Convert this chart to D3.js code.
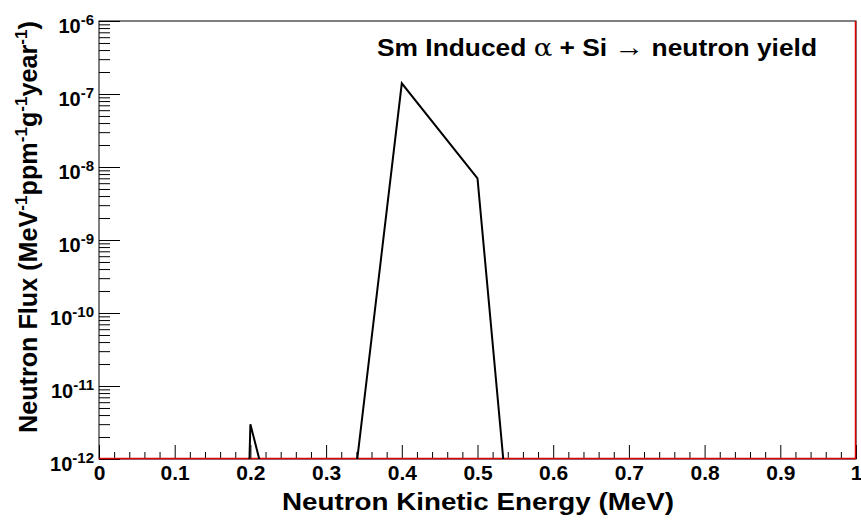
<!DOCTYPE html>
<html><head><meta charset="utf-8">
<script src="https://cdn.jsdelivr.net/npm/d3@7"></script>
<style>
html,body{margin:0;padding:0;background:#fff;}
svg{display:block;font-family:"Liberation Sans",Arial,Helvetica,sans-serif;font-weight:bold;}
</style></head>
<body>
<svg id="chart" width="861" height="522"></svg>
<script>
// ---- data ----
const energy = [0.1, 0.2, 0.3, 0.4, 0.5, 0.6];            // MeV
const flux   = [1e-50, 3.0e-12, 2.5e-16, 1.4e-7, 7.0e-9, 3.5e-20];
const floorEnergy = [0, 1, 1];
const floorFlux   = [1e-12, 1e-12, 1e-6];
const xTicks = [0, 0.1, 0.2, 0.3, 0.4, 0.5, 0.6, 0.7, 0.8, 0.9, 1];
const xTickLabels = ["0", "0.1", "0.2", "0.3", "0.4", "0.5", "0.6", "0.7", "0.8", "0.9", "1"];
const yDecades = [1e-12, 1e-11, 1e-10, 1e-9, 1e-8, 1e-7, 1e-6];
const yExponents = ["-12", "-11", "-10", "-9", "-8", "-7", "-6"];

// ---- layout ----
const L = 99, R = 856, T = 21, B = 459;
const svg = d3.select("#chart");
svg.append("rect").attr("width", 861).attr("height", 522).attr("fill", "#fff");

const x = d3.scaleLinear().domain([0, 1]).range([L, R]);
const y = d3.scaleLog().domain([1e-12, 1e-6]).range([B, T]);

svg.append("defs").append("clipPath").attr("id", "clip")
  .append("rect").attr("x", L).attr("y", T).attr("width", R - L).attr("height", B - T);

// frame
svg.append("rect").attr("x", L).attr("y", T).attr("width", R - L).attr("height", B - T)
  .attr("fill", "none").attr("stroke", "#000").attr("stroke-width", 1);

// x axis ticks
const xMinor = d3.range(0, 51).map(i => i / 50).filter(v => Math.round(v * 50) % 5 !== 0);
const gx = svg.append("g").attr("transform", `translate(0,${B})`);
gx.call(d3.axisBottom(x).tickValues(xMinor).tickSizeInner(-7).tickSizeOuter(0).tickFormat(""));
gx.call(g => g.select(".domain").remove());
const gx2 = svg.append("g").attr("transform", `translate(0,${B})`);
gx2.call(d3.axisBottom(x).tickValues(xTicks).tickSizeInner(-14).tickSizeOuter(0)
  .tickPadding(6).tickFormat((d, i) => xTickLabels[i]));
gx2.select(".domain").remove();
svg.selectAll(".tick line").attr("stroke", "#000").attr("stroke-width", 1);
gx2.selectAll(".tick text").attr("font-size", 21).attr("font-family", null).attr("fill", "#000")
  .attr("font-weight", "bold");

// y axis ticks
const yMinor = [];
for (let k = 0; k < yDecades.length - 1; k++) for (let m = 2; m <= 9; m++) yMinor.push(yDecades[k] * m);
const gy = svg.append("g").attr("transform", `translate(${L},0)`);
gy.call(d3.axisLeft(y).tickValues(yMinor).tickSizeInner(-11).tickSizeOuter(0).tickFormat(""));
gy.select(".domain").remove();
const gy2 = svg.append("g").attr("transform", `translate(${L},0)`);
gy2.call(d3.axisLeft(y).tickValues(yDecades).tickSizeInner(-21).tickSizeOuter(0).tickFormat(""));
gy2.select(".domain").remove();
svg.selectAll(".tick line").attr("stroke", "#000").attr("stroke-width", 1);

// y labels 10^n
const yl = svg.append("g").selectAll("text").data(yDecades).join("text")
  .attr("x", 94).attr("y", d => y(d) + 12).attr("text-anchor", "end")
  .attr("font-size", 20).attr("fill", "#000");
yl.append("tspan").text("10");
yl.append("tspan").attr("dy", -8).attr("font-size", 15).text((d, i) => yExponents[i]);

// floor (red) series
svg.append("path")
  .datum(floorEnergy.map((e, i) => [e, floorFlux[i]]))
  .attr("d", d3.line().x(d => x(d[0]) - (d[0] === 1 ? 0.5 : 0)).y(d => y(d[1]) - (d[1] === 1e-12 ? 0.5 : 0)))
  .attr("fill", "none").attr("stroke", "#e00000").attr("stroke-width", 1.5);

// main curve
svg.append("path")
  .datum(energy.map((e, i) => [e, flux[i]]))
  .attr("clip-path", "url(#clip)")
  .attr("d", d3.line().x(d => x(d[0])).y(d => y(d[1])))
  .attr("fill", "none").attr("stroke", "#000").attr("stroke-width", 2).attr("stroke-linejoin", "miter");

// x title
svg.append("text").attr("x", 282).attr("y", 510).attr("text-anchor", "start")
  .attr("font-size", 24).attr("fill", "#000")
  .attr("textLength", 392).attr("lengthAdjust", "spacingAndGlyphs")
  .text("Neutron Kinetic Energy (MeV)");

// y title
const yt = svg.append("text").attr("transform", `translate(37,433) rotate(-90)`)
  .attr("text-anchor", "start").attr("font-size", 25).attr("fill", "#000")
  .attr("textLength", 412).attr("lengthAdjust", "spacingAndGlyphs");
const parts = [["Neutron Flux (MeV", false], ["-1", true], ["ppm", false], ["-1", true],
               ["g", false], ["-1", true], ["year", false], ["-1", true], [")", false]];
let up = false;
parts.forEach(([t, sup]) => {
  const ts = yt.append("tspan").text(t);
  if (sup && !up) { ts.attr("dy", -10).attr("font-size", 17); up = true; }
  else if (!sup && up) { ts.attr("dy", 10); up = false; }
});

// title
const tt = svg.append("text").attr("x", 377).attr("y", 56).attr("font-size", 23).attr("fill", "#000")
  .attr("textLength", 440).attr("lengthAdjust", "spacingAndGlyphs");
tt.append("tspan").text("Sm Induced ");
tt.append("tspan").attr("font-weight", "normal").attr("font-family", "'DejaVu Serif',serif").attr("font-size", 24).text("α");
tt.append("tspan").text(" + Si ");
tt.append("tspan").attr("font-weight", "normal").attr("font-size", 26).text("→");
tt.append("tspan").text(" neutron yield");
</script>
</body></html>
